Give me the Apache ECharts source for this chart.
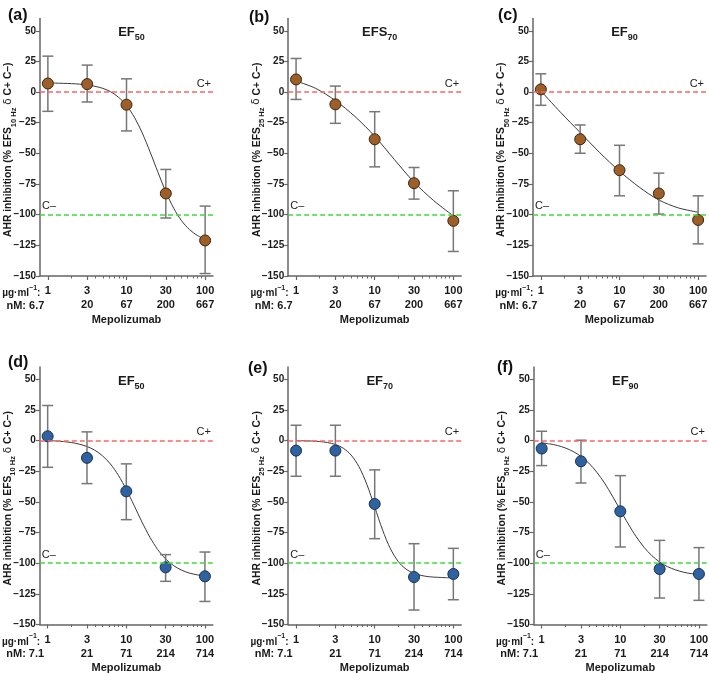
<!DOCTYPE html>
<html><head><meta charset="utf-8">
<script src="https://cdn.jsdelivr.net/npm/echarts@6/dist/echarts.min.js"></script>
<style>html,body{margin:0;padding:0;background:#fff}#c{width:709px;height:674px}</style>
</head><body><div id="c"></div>
<script>
// ---- data ----
const doses = [1, 3.162, 10, 31.62, 100];            // plotted positions (µg/ml, half-decade spacing)
const doseLabels = ['1', '3', '10', '30', '100'];
const nMTop = ['6.7', '20', '67', '200', '667'];
const nMBottom = ['7.1', '21', '71', '214', '714'];
const yTicks = [-150, -125, -100, -75, -50, -25, 0, 25, 50];
const minorDoses = [2, 4, 5, 6, 7, 8, 9, 20, 40, 50, 60, 70, 80, 90];
// fitted-curve sample positions (log10 µg/ml)
const curveLogFine = [0, 0.1, 0.2, 0.3, 0.4, 0.5, 0.6, 0.7, 0.8, 0.9, 1.0, 1.1, 1.2, 1.3, 1.4, 1.5, 1.6, 1.7, 1.8, 1.9, 2.0];
const curveLogCoarse = [0, 0.25, 0.5, 0.75, 1.0, 1.25, 1.5, 1.75, 2.0];

const meanA = [7, 6.5, -10.3, -82.7, -121];
const lowA  = [-15.7, -8.1, -31.7, -102.7, -148];
const highA = [29.3, 22, 10.8, -63.1, -93];
const curveA = [7.4, 7.3, 7.1, 6.9, 6.5, 5.8, 4.7, 3.0, 0.2, -4.3, -10.9, -20.5, -33.3, -48.8, -65.4, -81.3, -94.7, -104.9, -112.1, -116.9, -120];

const meanB = [10.3, -10, -38.5, -74.3, -105];
const lowB  = [-6, -25.5, -61, -87.3, -130];
const highB = [27.4, 4.9, -16, -61.5, -80.5];
const curveB = [9, 3, -7, -20, -36, -55, -73.5, -88.5, -101];

const meanC = [2.2, -38.5, -63.7, -82.7, -104.3];
const lowC  = [-10.8, -49.9, -84.6, -99.5, -123.8];
const highC = [14.9, -26.8, -43.4, -66.1, -84.6];
const curveC = [1, -16.5, -33, -49.5, -64.5, -77.5, -88, -94.5, -98];

const meanD = [3.5, -14.1, -41.4, -103.4, -110.7];
const lowD  = [-21.8, -35.1, -64.5, -114.8, -131.2];
const highD = [28.6, 7.1, -19, -93, -90.9];
const curveD = [0, -0.3, -0.8, -1.6, -2.9, -4.8, -7.9, -12.6, -19.2, -28.4, -39.9, -53, -66.5, -78.8, -88.9, -96.5, -101.9, -105.6, -108, -109.5, -110.4];

const meanE = [-8.2, -8.2, -51.7, -111.3, -108.8];
const lowE  = [-29.1, -29.1, -80, -138.2, -129.8];
const highE = [12.5, 12.5, -23.9, -84.1, -87.9];
const curveE = [-0.1, -0.2, -0.4, -0.8, -1.6, -3.2, -6.2, -11.8, -21.3, -35.7, -54.1, -72.9, -88.2, -98.7, -104.9, -108.3, -110.1, -111.1, -111.5, -111.8, -111.9];

const meanF = [-6.5, -16.9, -57.7, -104.8, -108.8];
const lowF  = [-20.4, -34.6, -86.8, -128.4, -130.3];
const highF = [7.6, 0.3, -28.6, -81.4, -87.3];
const curveF = [-1.8, -2.7, -4, -6, -8.9, -12.9, -18.4, -25.7, -34.7, -45.3, -56.6, -67.9, -78.2, -86.9, -93.8, -99, -102.8, -105.4, -107.3, -108.5, -109.3];

const titlesMain = ['EF', 'EFS', 'EF', 'EF', 'EF', 'EF'];
const titlesSub = ['50', '70', '90', '50', '70', '90'];
const yNameSub = ['10 Hz', '25 Hz', '50 Hz', '10 Hz', '25 Hz', '50 Hz'];
const panelLetters = ['(a)', '(b)', '(c)', '(d)', '(e)', '(f)'];

// ---- layout / style ----
const FONT = 'Liberation Sans, Arial, sans-serif';
const BROWN = '#9e5e28', BLUE = '#2f62a0';
const panels = [
  {mean: meanA, low: lowA, high: highA, cx: curveLogFine, curve: curveA, color: BROWN, border: '#3b2512', nM: nMTop, left: 40, top: 18.5, lx: 3, ly: 3},
  {mean: meanB, low: lowB, high: highB, cx: curveLogCoarse, curve: curveB, color: BROWN, border: '#3b2512', nM: nMTop, left: 288.2, top: 18.5, lx: 244, ly: 5},
  {mean: meanC, low: lowC, high: highC, cx: curveLogCoarse, curve: curveC, color: BROWN, border: '#3b2512', nM: nMTop, left: 533, top: 18.5, lx: 493, ly: 3},
  {mean: meanD, low: lowD, high: highD, cx: curveLogFine, curve: curveD, color: BLUE, border: '#1b2f4f', nM: nMBottom, left: 39.8, top: 367, lx: 3, ly: 350},
  {mean: meanE, low: lowE, high: highE, cx: curveLogFine, curve: curveE, color: BLUE, border: '#1b2f4f', nM: nMBottom, left: 288.2, top: 367, lx: 243, ly: 356},
  {mean: meanF, low: lowF, high: highF, cx: curveLogFine, curve: curveF, color: BLUE, border: '#1b2f4f', nM: nMBottom, left: 533.8, top: 367, lx: 492, ly: 355}
];
const GW = 173, GH = 257.5;
const XMIN = -0.1, XMAX = 2.1;
const lg = v => Math.log10(v);
const majorPos = doses.map(lg);
const minorPos = minorDoses.map(lg);
const fmtMinus = v => String(v).replace('-', '\u2212');
const TXT = '#1a1a1a';

const grids = [], xAxes = [], yAxes = [], series = [], titles = [];
panels.forEach((p, i) => {
  grids.push({left: p.left, top: p.top, width: GW, height: GH, containLabel: false, outerBoundsMode: 'none'});
  xAxes.push({
    gridIndex: i, type: 'value', min: XMIN, max: XMAX, position: 'bottom',
    axisLine: {show: true, onZero: false, lineStyle: {color: '#666', width: 1.5}},
    axisTick: {show: true, customValues: majorPos, length: 4, lineStyle: {color: '#666', width: 1.2}},
    axisLabel: {
      customValues: majorPos, margin: 8, lineHeight: 14, fontSize: 11, fontWeight: 'bold', color: TXT, fontFamily: FONT,
      formatter: v => {
        let k = majorPos.findIndex(m => Math.abs(m - v) < 1e-6);
        if (k < 0) return '';
        return k === 0 ? doseLabels[0] + '\n\u00a0' : doseLabels[k] + '\n' + p.nM[k];
      }
    },
    splitLine: {show: false},
    name: 'Mepolizumab', nameLocation: 'middle', nameGap: 38, nameMoveOverlap: false,
    nameTextStyle: {fontSize: 11, fontWeight: 'bold', color: TXT, fontFamily: FONT}
  });
  yAxes.push({
    gridIndex: i, type: 'value', min: -150, max: 60,
    axisLine: {show: true, onZero: false, lineStyle: {color: '#666', width: 1.5}},
    axisTick: {show: true, customValues: yTicks, length: 4, lineStyle: {color: '#666', width: 1.2}},
    axisLabel: {customValues: yTicks, formatter: fmtMinus, margin: 4, fontSize: 10, fontWeight: 'bold', color: TXT, fontFamily: FONT},
    splitLine: {show: false},
    name: '{n|AHR inhibition (% EFS}{s|' + yNameSub[i] + '}{n| }{d|\u03b4}{n| C+ C\u2013)}',
    nameLocation: 'middle', nameGap: 22.5, nameMoveOverlap: false,
    nameTextStyle: {
      padding: [0, 5, 0, 0],
      rich: {
        n: {fontSize: 10.3, fontWeight: 'bold', color: TXT, fontFamily: FONT, lineHeight: 15, verticalAlign: 'middle'},
        s: {fontSize: 7.5, fontWeight: 'bold', color: TXT, fontFamily: FONT, lineHeight: 18, verticalAlign: 'bottom'},
        d: {fontSize: 10.5, color: TXT, fontFamily: 'DejaVu Sans', lineHeight: 15, verticalAlign: 'middle'}
      }
    }
  });
  titles.push({
    text: '{m|' + titlesMain[i] + '}{s|' + titlesSub[i] + '}',
    left: p.left + GW / 2, top: p.top - 1, textAlign: 'center',
    textStyle: {rich: {
      m: {fontSize: 13, fontWeight: 'bold', color: TXT, fontFamily: FONT, lineHeight: 16},
      s: {fontSize: 9, fontWeight: 'bold', color: TXT, fontFamily: FONT, lineHeight: 20, verticalAlign: 'bottom'}
    }}
  });
  titles.push({
    text: panelLetters[i], left: p.lx, top: p.ly,
    textStyle: {fontSize: 16, fontWeight: 'bold', color: '#111', fontFamily: FONT}
  });
  // fitted curve + reference lines
  series.push({
    type: 'line', xAxisIndex: i, yAxisIndex: i, z: 2,
    data: p.cx.map((x, k) => [x, p.curve[k]]),
    smooth: 0.3, showSymbol: false, symbol: 'none',
    lineStyle: {color: '#3a3a3a', width: 1},
    markLine: {
      silent: true, symbol: ['none', 'none'], animation: false,
      data: [
        {yAxis: 0, lineStyle: {color: '#ff6464', type: [5, 3], width: 1.5},
         label: {formatter: 'C+', position: 'insideEndTop', distance: [2, 3], fontSize: 11, color: '#222', fontFamily: FONT}},
        {yAxis: -100, lineStyle: {color: '#3ddc3d', type: [5, 3], width: 1.5},
         label: {formatter: 'C\u2013', position: 'insideStartTop', distance: [2, 3], fontSize: 11, color: '#222', fontFamily: FONT}}
      ]
    }
  });
  // error bars
  series.push({
    type: 'custom', xAxisIndex: i, yAxisIndex: i, z: 3,
    data: doses.map((d, k) => [lg(d), p.low[k], p.high[k]]),
    renderItem: (params, api) => {
      const x = api.value(0);
      const a = api.coord([x, api.value(2)]);
      const b = api.coord([x, api.value(1)]);
      const w = 5.5;
      const st = {stroke: '#777', lineWidth: 1.5};
      return {type: 'group', children: [
        {type: 'line', shape: {x1: a[0], y1: a[1], x2: b[0], y2: b[1]}, style: st},
        {type: 'line', shape: {x1: a[0] - w, y1: a[1], x2: a[0] + w, y2: a[1]}, style: st},
        {type: 'line', shape: {x1: b[0] - w, y1: b[1], x2: b[0] + w, y2: b[1]}, style: st}
      ]};
    }
  });
  // means
  series.push({
    type: 'scatter', xAxisIndex: i, yAxisIndex: i, z: 4,
    data: doses.map((d, k) => [lg(d), p.mean[k]]),
    symbolSize: 11,
    itemStyle: {color: p.color, borderColor: p.border, borderWidth: 1, opacity: 1}
  });
});
// minor log ticks
panels.forEach((p, i) => {
  xAxes.push({
    gridIndex: i, type: 'value', min: XMIN, max: XMAX, position: 'bottom',
    axisLine: {show: false, onZero: false}, axisLabel: {show: false}, splitLine: {show: false},
    axisTick: {show: true, customValues: minorPos, length: 2.5, lineStyle: {color: '#666', width: 1}}
  });
});

const chart = echarts.init(document.getElementById('c'), null, {renderer: 'canvas'});
chart.setOption({
  backgroundColor: '#fff', animation: false,
  title: titles, grid: grids, xAxis: xAxes, yAxis: yAxes, series: series
});

// first-tick prefixes ("µg·ml⁻¹:" and "nM: …") placed relative to the axis through the library's coordinates
const graphics = [];
const lbl = {fontSize: 11, fontWeight: 'bold', fill: TXT, fontFamily: FONT};
panels.forEach((p, i) => {
  const pt = chart.convertToPixel({gridIndex: i}, [majorPos[0], -150]);
  graphics.push({type: 'text', x: pt[0] - 7.5, y: pt[1] + 15.5,
    style: {text: '{a|\u00b5g\u00b7ml}{s|\u22121}{a|:}', align: 'right', verticalAlign: 'middle',
      rich: {a: {fontSize: 10, fontWeight: 'bold', fill: TXT, fontFamily: FONT, lineHeight: 14, verticalAlign: 'bottom'},
             s: {fontSize: 7, fontWeight: 'bold', fill: TXT, fontFamily: FONT, lineHeight: 12, verticalAlign: 'top'}}}});
  graphics.push({type: 'text', x: pt[0] - 3.5, y: pt[1] + 29.5,
    style: Object.assign({text: 'nM: ' + p.nM[0], align: 'right', verticalAlign: 'middle'}, lbl)});
});
chart.setOption({graphic: graphics});
</script></body></html>
